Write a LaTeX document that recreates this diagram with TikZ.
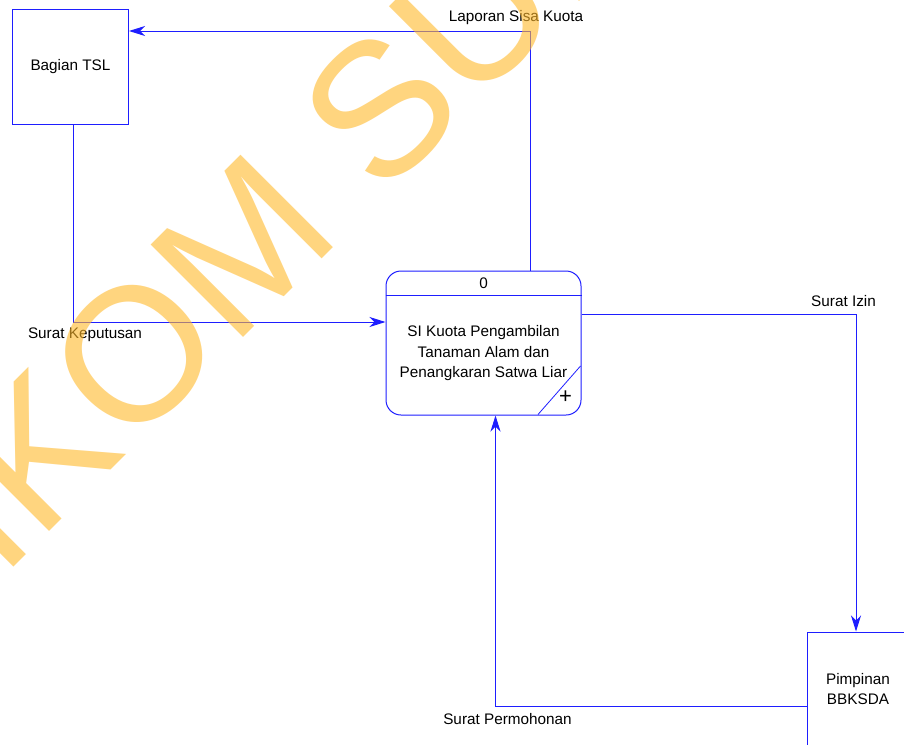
\documentclass[tikz,border=0pt]{standalone}
\usepackage{fontspec}
\setmainfont{Liberation Sans}
\usetikzlibrary{arrows.meta}
\definecolor{dfdblue}{RGB}{30,30,255}
\definecolor{wmcol}{RGB}{255,185,43}
\tikzset{
  ent/.style={draw=dfdblue, line width=1pt, rectangle, inner sep=0pt, align=center, font=\fontsize{15.3}{20}\selectfont},
  procbox/.style={draw=dfdblue, line width=1pt, rectangle, rounded corners=15pt, inner sep=0pt, minimum width=195pt, minimum height=144pt},
  flow/.style={draw=dfdblue, line width=1pt, -{Stealth[length=16pt,width=10pt,inset=5pt]}},
  lbl/.style={font=\fontsize{15.3}{20}\selectfont, inner sep=0pt},
  ptext/.style={font=\fontsize{15.3}{20.5}\selectfont, align=center, inner sep=0pt},
  wmark/.style={text=wmcol, opacity=0.6, inner sep=0pt, font=\fontsize{190}{190}\selectfont}
}
\begin{document}
\begin{tikzpicture}[x=1pt,y=-1pt]
\useasboundingbox (0,0) rectangle (904,744);
\clip (0,0) rectangle (904,744);
\fill[white] (0,0) rectangle (904,744);
% entities
\node[ent, minimum width=116pt, minimum height=114.5pt] (tsl) at (70.5,67) {Bagian TSL};
\node[ent, minimum width=101pt, minimum height=114pt] (bbk) at (858,689) {Pimpinan\\BBKSDA};
% process
\node[procbox] (p0) at (483.5,343) {};
\draw[dfdblue, line width=1pt] (p0.west |- 0,295) -- (p0.east |- 0,295);
\node[lbl] (pid) at (483.5,283) {0};
\node[ptext] (pname) at (483.5,353.5) {SI Kuota Pengambilan\\Tanaman Alam dan\\Penangkaran Satwa Liar};
\coordinate (d1) at (580.5,366);
\coordinate (d2) at (538,414.5);
\draw[dfdblue, line width=0.8pt] (d1) -- (d2);
\node[inner sep=0pt, font=\fontsize{22}{22}\selectfont] (plus) at (565.5,397) {+};
% flows
\draw[flow] (p0.north -| 530,0) -- (530,31) -- (tsl.east |- 0,31);
\draw[flow] (tsl.south -| 73.5,0) -- (73.5,322) -- (p0.west |- 0,322);
\draw[flow] (p0.east |- 0,314.5) -- (856,314.5) -- (bbk.north -| 856,0);
\draw[flow] (bbk.west |- 0,706.5) -- (495.5,706.5) -- (p0.south -| 495.5,0);
% labels
\node[lbl] (l1) at (516,17.5) {Laporan Sisa Kuota};
\node[lbl] (l2) at (85,335) {Surat Keputusan};
\node[lbl] (l3) at (843.5,301) {Surat Izin};
\node[lbl] (l4) at (507.5,719) {Surat Permohonan};
% watermark
\node[wmark, anchor=base west, rotate=45] (wm) at (-170.5,751.5) {STIKOM SURABAYA};
\end{tikzpicture}
\end{document}
